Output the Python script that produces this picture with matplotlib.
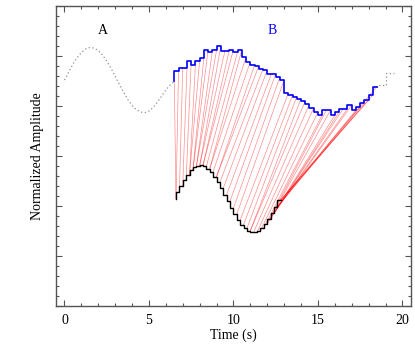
import numpy as np
import matplotlib
matplotlib.use("Agg")
import matplotlib.pyplot as plt
from matplotlib.ticker import MultipleLocator, NullFormatter

# series A: reference signal (step 0.25 s)
time_a = np.arange(0, 19.51, 0.25)
amp_a = [
    1.52, 1.68, 1.84, 1.97, 2.07, 2.14, 2.17, 2.16, 2.11, 2.02,
    1.90, 1.76, 1.60, 1.43, 1.28, 1.13, 1.01, 0.93, 0.88, 0.87,
    0.90, 0.97, 1.08, 1.20, 1.32, 1.42, 1.50,
    # matched part B (6.75 .. 18.5 s)
    1.70, 1.77, 1.77, 1.91, 1.83, 1.91, 1.97, 2.12, 2.09, 2.12,
    2.20, 2.11, 2.11, 2.13, 2.09, 2.13, 1.98, 1.89, 1.82, 1.80,
    1.74, 1.72, 1.65, 1.64, 1.58, 1.52, 1.26, 1.22, 1.19, 1.15,
    1.10, 1.04, 0.96, 0.88, 0.82, 0.92, 0.92, 0.82, 0.88, 0.95,
    0.95, 1.02, 0.92, 0.99, 1.06, 1.12, 1.22, 1.39,
    # tail
    1.42, 1.42, 1.66, 1.66,
]
b_start, b_end = 26, 74  # index range of the matched segment B

# query signal (drawn shifted below, step 0.2 s)
time_q = np.arange(6.6, 12.81, 0.2)
amp_q = [
    -0.85, -0.72, -0.59, -0.47, -0.37, -0.28, -0.22, -0.19, -0.18, -0.20,
    -0.25, -0.31, -0.41, -0.52, -0.64, -0.77, -0.90, -1.04, -1.16, -1.28,
    -1.37, -1.44, -1.49, -1.52, -1.52, -1.49, -1.43, -1.35, -1.25, -1.14,
    -1.01, -0.88,
]

# warping path: (query index, index inside B)
path = [
    (0, 0), (0, 1), (1, 2), (2, 3), (3, 4), (4, 5), (4, 6), (5, 7), (5, 8),
    (6, 9), (6, 10), (7, 11), (7, 12), (8, 13), (8, 14), (9, 15), (10, 16),
    (10, 17), (11, 18), (12, 19), (12, 20), (13, 21), (14, 22), (15, 23),
    (16, 24), (17, 25), (18, 26), (19, 27), (20, 28), (21, 29), (22, 30),
    (22, 31), (23, 32), (24, 33), (25, 34), (26, 35), (27, 36), (27, 37),
    (28, 38), (28, 39), (29, 40), (29, 41), (29, 42), (30, 43), (30, 44),
    (30, 45), (31, 46), (31, 47), (31, 48),
]

plt.rcParams["font.family"] = ["Liberation Serif", "DejaVu Serif"]
plt.rcParams["font.size"] = 10

fig = plt.figure(figsize=(4.15, 3.56), dpi=100)
ax = fig.add_axes([0.135, 0.14, 0.855, 0.843])

amp_a = np.array(amp_a)
time_b = time_a[b_start:b_end + 1]
amp_b = amp_a[b_start:b_end + 1]

# alignment lines
for qi, bi in path:
    ax.plot([time_q[qi], time_b[bi]], [amp_q[qi], amp_b[bi]],
            color="red", lw=0.5, alpha=0.45, zorder=1)

# unmatched parts of A, dotted
dot = dict(color="#909090", ls=(0, (1, 2)), lw=0.9, zorder=2)
ax.plot(time_a[:b_start + 1], amp_a[:b_start + 1], **dot)
ax.plot(time_a[b_end:], amp_a[b_end:], drawstyle="steps-pre", **dot)

ax.plot(time_b, amp_b, color="blue", lw=1.2, drawstyle="steps-pre", zorder=3)
ax.plot(time_q, amp_q, color="black", lw=1.0, drawstyle="steps-pre", zorder=3)

ax.text(2.3, 2.52, "A", color="black", fontsize=10, ha="center", va="center")
ax.text(12.27, 2.52, "B", color="blue", fontsize=10, ha="center", va="center")

ax.set_xlim(-0.5, 20.5)
ax.set_ylim(-3, 3)
ax.xaxis.set_major_locator(MultipleLocator(5))
ax.xaxis.set_minor_locator(MultipleLocator(1))
ax.yaxis.set_major_locator(MultipleLocator(1))
ax.yaxis.set_minor_locator(MultipleLocator(0.2))
ax.yaxis.set_major_formatter(NullFormatter())

for s in ax.spines.values():
    s.set_color("#555555")
    s.set_linewidth(1.0)
ax.tick_params(which="both", direction="in", top=True, right=True,
               color="#555555", labelsize=10, pad=6)
ax.tick_params(which="major", length=4, width=0.8)
ax.tick_params(which="minor", length=2.5, width=0.8)

ax.set_xlabel("Time (s)", fontsize=10, labelpad=1)
ax.set_ylabel("Normalized Amplitude", fontsize=10, labelpad=3)

fig.savefig("out.png", dpi=100)
